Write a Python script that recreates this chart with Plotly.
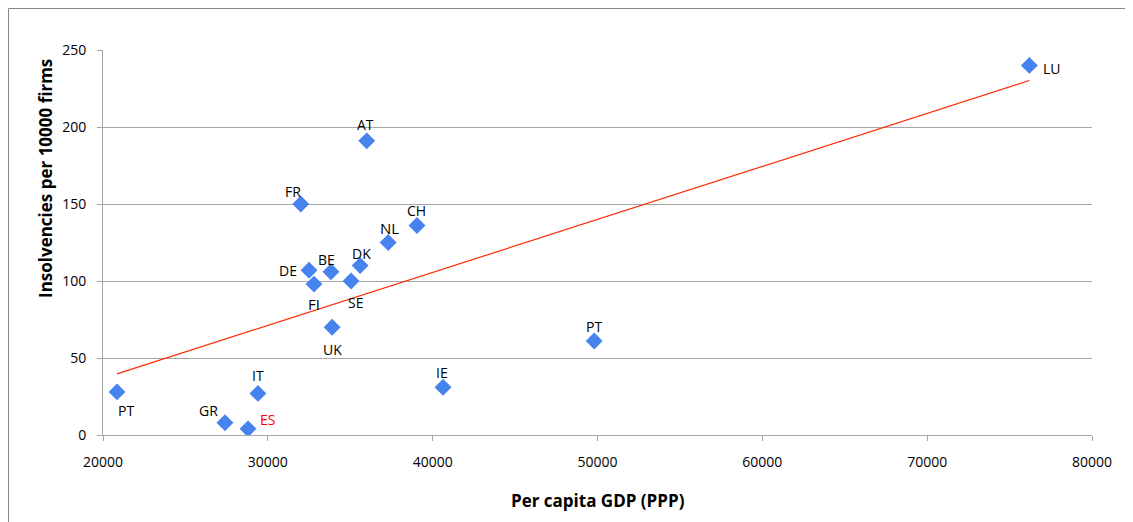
import numpy as np
import plotly.graph_objects as go

countries = ["PT", "GR", "ES", "IT", "FR", "DE", "FI", "BE", "UK", "SE", "DK", "AT", "NL", "CH", "IE", "PT", "LU"]
gdp = [20850, 27400, 28800, 29400, 32000, 32500, 32800, 33830, 33900, 35050, 35600, 36000, 37300, 39050, 40630, 49800, 76200]
insolv = [28, 8, 4, 27, 150, 107, 98, 106, 70, 100, 110, 191, 125, 136, 31, 61, 240]

x_title = "Per capita GDP (PPP)"
y_title = "Insolvencies per 10000 firms"

# label offsets in pixels (style, not data)
label_dx = [9, -16, 19, 0, -8, -21, 0, -4, 0, 4, 1, -1, 1, -1, -1, 0, 23]
label_dy = [-19, 12, 9, 18, 13, 0, -20, 12, -22, -21, 12, 16, 15, 15, 15, 15, -3]
label_size = [14, 14, 14, 14, 14, 14, 15, 14, 14, 14, 14, 14, 15, 14, 14, 14, 14]
label_color = ["black"] * len(countries)
label_color[2] = "#FF0000"

slope, intercept = np.polyfit(gdp, insolv, 1)
tx = [min(gdp), max(gdp)]
ty = [slope * v + intercept for v in tx]

L, T, PW, PH = 95, 42, 989, 385
W, H = 1133, 522

fig = go.Figure()
fig.add_trace(go.Scatter(x=tx, y=ty, mode="lines", line=dict(color="#FF2A00", width=1.2),
                         hoverinfo="skip", showlegend=False))
fig.add_trace(go.Scatter(x=gdp, y=insolv, mode="markers",
                         marker=dict(symbol="diamond", size=13, color="#4683EE"),
                         showlegend=False))

for c, x, y, dx, dy, s, col in zip(countries, gdp, insolv, label_dx, label_dy, label_size, label_color):
    fig.add_annotation(x=x, y=y, text=c, showarrow=False, xshift=dx, yshift=dy,
                       font=dict(size=s, color=col, family="Open Sans"))

# axis titles
fig.add_annotation(xref="paper", yref="paper", x=0.5, y=-(500 - 8 - (T + PH)) / PH,
                   xanchor="center", yanchor="middle",
                   text="<b>" + x_title + "</b>", showarrow=False,
                   font=dict(size=17, family="Open Sans", color="black"))
fig.add_annotation(xref="paper", yref="paper", x=(45 - 8 - L) / PW, y=(435 - 179) / PH,
                   xanchor="center", yanchor="middle",
                   text="<b>" + y_title + "</b>", showarrow=False, textangle=-90,
                   font=dict(size=17, family="Open Sans", color="black"))

# outer frame
fig.add_shape(type="rect", xref="paper", yref="paper",
              x0=(-L + 0.5) / PW, x1=(W - L - 0.5) / PW,
              y0=-(H - T - PH - 0.5) / PH, y1=1 + (T - 0.5) / PH,
              line=dict(color="#888888", width=1), layer="below")

axis_common = dict(showline=True, linecolor="#A6A6A6", linewidth=1, ticks="outside",
                   tickcolor="#A6A6A6", ticklen=5,
                   tickfont=dict(size=14, color="black", family="Open Sans"),
                   zeroline=False)

fig.update_xaxes(range=[20000, 80000], dtick=10000, tick0=20000, tickformat="d", showgrid=False,
                 ticklabelstandoff=9, **axis_common)
fig.update_yaxes(range=[0, 250], dtick=50, showgrid=True, gridcolor="#A6A6A6", gridwidth=1,
                 ticklabelstandoff=8, **axis_common)

fig.update_layout(width=W, height=H, margin=dict(l=L, r=W - L - PW, t=T, b=H - T - PH),
                  plot_bgcolor="white", paper_bgcolor="white",
                  font=dict(family="Open Sans", color="black"))

fig.write_html("out.html")
